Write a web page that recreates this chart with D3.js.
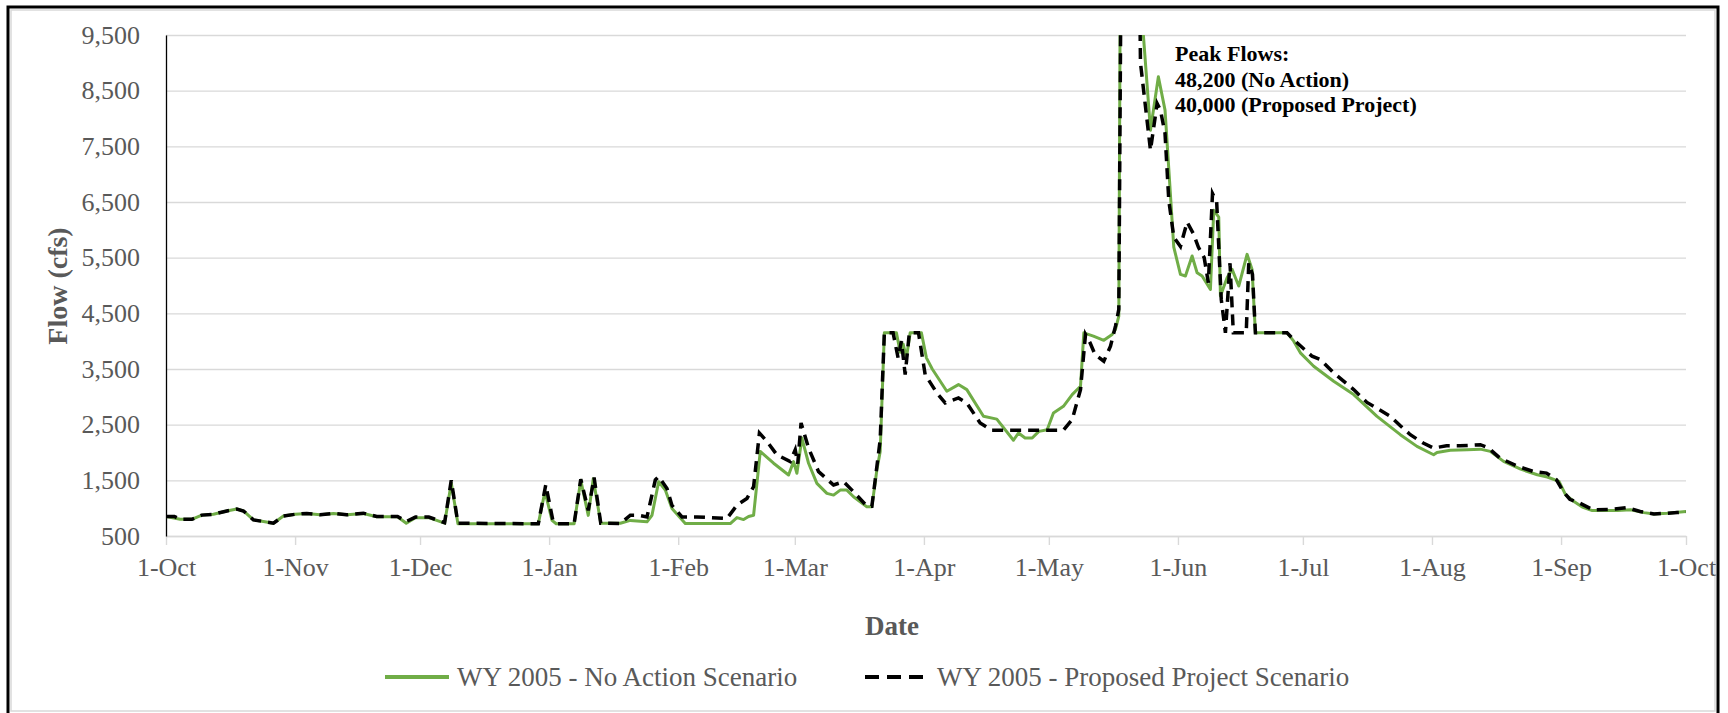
<!DOCTYPE html>
<html>
<head>
<meta charset="utf-8">
<script src="https://cdn.jsdelivr.net/npm/d3@7"></script>
<style>
  body { margin: 0; background: #fff; }
  svg { display: block; }
  text { font-family: "Liberation Serif", "Times New Roman", serif; }
</style>
</head>
<body>
<script>
// water year 2005, day 0 = 1-Oct-2004
const yTicks = [500, 1500, 2500, 3500, 4500, 5500, 6500, 7500, 8500, 9500];
const seriesNames = ["WY 2005 - No Action Scenario", "WY 2005 - Proposed Project Scenario"];
const peakNote = ["Peak Flows:", "48,200 (No Action)", "40,000 (Proposed Project)"];

// [day of water year, flow cfs]
const noAction = [
  [0, 850], [3.4, 800], [6.2, 800], [8.6, 875], [11.4, 890], [14.6, 950], [17, 985],
  [18.6, 950], [21, 790], [23.4, 760], [25.8, 730], [28.2, 860], [31, 890], [33.8, 905],
  [37, 880], [40.2, 905], [43.4, 880], [47.4, 905], [50.6, 845], [55.6, 845], [57.7, 730],
  [59.9, 830], [63.1, 830], [66.9, 730], [68.5, 1450], [70.1, 720], [89.4, 720], [91, 1300],
  [92.7, 780], [93.7, 720], [98, 720], [99.6, 1500], [101.4, 870], [102.6, 1530], [104.4, 730],
  [109.1, 730], [111.5, 780], [115.5, 755], [116.7, 873], [118.3, 1476], [119.9, 1325],
  [121.5, 994], [124.7, 723], [135.5, 723], [137.1, 831], [138.7, 795], [139.9, 850],
  [141.1, 873], [142.7, 2018], [145.9, 1807], [149.5, 1596], [150.7, 1837], [151.5, 1627],
  [152.7, 2259], [154.3, 1807], [156.3, 1446], [158.7, 1265], [160.3, 1235], [161.9, 1325],
  [163.5, 1325], [165.1, 1205], [168.3, 1024], [169.5, 1024], [170.7, 1687], [171.5, 2018],
  [172.5, 4150], [175.4, 4150], [176.3, 3800], [177, 3950], [177.8, 3700], [178.7, 4150],
  [181.4, 4150], [182.6, 3700], [184, 3500], [187.5, 3100], [190.3, 3220], [192.3, 3130],
  [196.3, 2650], [199.5, 2600], [203.5, 2220], [204.7, 2350], [206.3, 2260], [208, 2260],
  [209.6, 2380], [211.6, 2410], [213.1, 2710], [215.5, 2830], [217.6, 3040], [219.6, 3190],
  [220.4, 4150], [222.7, 4090], [225.2, 4015], [227.2, 4120], [228, 4210], [228.8, 4450],
  [230, 25000], [231, 40000], [232, 48200], [233, 30000], [234, 10200], [236.4, 7790],
  [238.3, 8750], [239.9, 8150], [242, 5690], [243.6, 5200], [244.8, 5170], [246.4, 5530],
  [247.6, 5230], [248.8, 5170], [250.8, 4930], [251.6, 6350], [252.8, 6230], [253.2, 4810],
  [254.8, 5140], [256, 5290], [257.6, 4990], [259.6, 5560], [260.8, 5290], [261.6, 4150],
  [269.2, 4150], [270.8, 4000], [272.4, 3790], [275.6, 3550], [280.4, 3280], [285.2, 3040],
  [290.8, 2650], [296.4, 2320], [300.4, 2110], [304.4, 1960], [305.2, 2000], [308.4, 2040],
  [312.4, 2050], [315.6, 2060], [318, 2020], [321.2, 1840], [325.3, 1700], [329.3, 1600],
  [331.7, 1560], [334.5, 1480], [336.1, 1240], [338.1, 1120], [340.1, 1020], [342.5, 957],
  [348.5, 957], [351.7, 970], [354.9, 920], [357.3, 897], [360.5, 910], [365, 940]
];

const proposed = [
  [0, 850], [2, 850], [3.4, 800], [6.2, 800], [8.6, 875], [11.4, 890], [14.6, 950], [17, 985],
  [18.6, 950], [21, 790], [23.4, 760], [25.8, 730], [28.2, 860], [31, 890], [33.8, 905],
  [37, 880], [40.2, 905], [43.4, 880], [47.4, 910], [50.6, 850], [55.6, 850], [57.7, 760],
  [59.9, 840], [63.1, 840], [66.9, 740], [68.5, 1500], [70.1, 730], [89.4, 720], [91.2, 1420],
  [92.9, 780], [94, 720], [98, 720], [99.6, 1520], [101.4, 960], [102.8, 1550], [104.4, 730],
  [109.1, 723], [111.5, 873], [113.5, 873], [115.5, 843], [117.5, 1506], [118.3, 1566],
  [120.3, 1355], [121.5, 1050], [123.9, 843], [127.5, 843], [134.7, 813], [137.1, 1054],
  [139.5, 1175], [141.1, 1386], [142.5, 2349], [144.3, 2199], [146.7, 1958], [149.9, 1837],
  [151.1, 2048], [151.7, 1800], [152.5, 2530], [154.3, 2078], [156.7, 1657], [160.3, 1416],
  [162.7, 1476], [165.1, 1295], [168.3, 1036], [169.5, 1036], [170.3, 1506], [171.5, 2229],
  [172.5, 4150], [174.6, 4150], [175.8, 3700], [176.6, 4000], [177.5, 3400], [178.5, 4150],
  [180.7, 4150], [182.3, 3400], [185.1, 3070], [187.1, 2890], [190.3, 2980], [192.3, 2890],
  [195.5, 2530], [198.3, 2400], [215.5, 2400], [217.6, 2590], [219.6, 3130], [220.8, 4120],
  [221.9, 3970], [223.1, 3760], [225.2, 3640], [226.8, 3910], [228, 4270], [228.8, 4570],
  [229.7, 15000], [231, 40000], [232, 30000], [233, 16000], [234, 9000], [236.4, 7430],
  [238, 8270], [238.8, 8150], [239.9, 7730], [240.8, 6530], [242, 5870], [243.6, 5700],
  [245.2, 6140], [246.7, 5930], [247.9, 5690], [249.3, 5500], [250.3, 5050], [251.3, 6650],
  [252.3, 6500], [253.4, 4750], [254.4, 4150], [255.5, 5400], [256.3, 4150], [259.4, 4150],
  [260, 5400], [260.9, 5200], [261.6, 4150], [269.2, 4150], [271.6, 3970], [275.2, 3730],
  [277.2, 3670], [280.4, 3430], [285.2, 3130], [288.4, 2900], [294, 2650], [296.4, 2480],
  [298.8, 2320], [301.9, 2170], [304.4, 2080], [307.5, 2120], [310.7, 2120], [315.6, 2140],
  [317.6, 2080], [320.3, 1900], [324.3, 1760], [328.3, 1660], [331.5, 1630], [333.9, 1510],
  [335.5, 1300], [337.1, 1160], [339.5, 1090], [342.7, 970], [347.5, 980], [350.8, 1010],
  [354, 940], [357.3, 897], [362.9, 920], [365, 930]
];

const width = 1728, height = 713;
const plotLeft = 166, plotRight = 1686, plotTop = 35, plotBottom = 536;
const serif = "'Liberation Serif', 'Times New Roman', serif";

const start = Date.UTC(2004, 9, 1);
const dayToDate = d => new Date(start + d * 864e5);

const x = d3.scaleUtc()
    .domain([new Date(start), new Date(Date.UTC(2005, 9, 1))])
    .range([plotLeft, plotRight]);

const y = d3.scaleLinear()
    .domain([500, 9500])
    .range([plotBottom, plotTop]);

const svg = d3.select("body").append("svg")
    .attr("width", width)
    .attr("height", height);

// chart frame
svg.append("rect")
    .attr("x", 8).attr("y", 7)
    .attr("width", 1710).attr("height", 708)
    .attr("fill", "none")
    .attr("stroke", "#000")
    .attr("stroke-width", 3);
svg.append("rect")
    .attr("x", 11).attr("y", 10)
    .attr("width", 1704).attr("height", 701)
    .attr("fill", "none")
    .attr("stroke", "#d9d9d9")
    .attr("stroke-width", 1.5);

// gridlines
svg.append("g")
    .attr("transform", `translate(${plotLeft},0)`)
    .call(d3.axisLeft(y).tickValues(yTicks).tickSize(-(plotRight - plotLeft)).tickFormat(""))
    .call(g => g.select(".domain").remove())
    .call(g => g.selectAll("line").attr("stroke", "#d9d9d9").attr("stroke-width", 1.4));

// x axis
const months = d3.utcMonth.range(new Date(start), new Date(Date.UTC(2005, 9, 2)));
svg.append("g")
    .attr("transform", `translate(0,${plotBottom})`)
    .call(d3.axisBottom(x).tickValues(months).tickFormat(d3.utcFormat("%-d-%b")).tickSize(9).tickSizeOuter(0).tickPadding(13))
    .call(g => g.select(".domain").attr("stroke", "#d9d9d9").attr("stroke-width", 1.4))
    .call(g => g.selectAll("line").attr("stroke", "#d9d9d9").attr("stroke-width", 1.4))
    .call(g => g.selectAll("text")
        .attr("fill", "#595959")
        .style("font-size", "26px")
        .style("font-family", serif));

// y axis
svg.append("g")
    .attr("transform", `translate(${plotLeft},0)`)
    .call(d3.axisLeft(y).tickValues(yTicks).tickFormat(d3.format(",")).tickSize(0).tickPadding(26))
    .call(g => g.select(".domain").attr("stroke", "#000").attr("stroke-width", 1.3))
    .call(g => g.selectAll("text")
        .attr("fill", "#595959")
        .style("font-size", "26px")
        .style("font-family", serif));

// axis titles
svg.append("text")
    .attr("x", 892).attr("y", 635)
    .attr("text-anchor", "middle")
    .attr("fill", "#595959")
    .attr("font-weight", "bold")
    .attr("font-size", 27)
    .text("Date");

svg.append("text")
    .attr("transform", "translate(67,286) rotate(-90)")
    .attr("text-anchor", "middle")
    .attr("fill", "#595959")
    .attr("font-weight", "bold")
    .attr("font-size", 28)
    .text("Flow (cfs)");

// lines
svg.append("clipPath").attr("id", "plot")
  .append("rect")
    .attr("x", plotLeft).attr("y", plotTop)
    .attr("width", plotRight - plotLeft).attr("height", plotBottom - plotTop);

const line = d3.line()
    .x(d => x(dayToDate(d[0])))
    .y(d => y(d[1]));

svg.append("path")
    .datum(noAction)
    .attr("clip-path", "url(#plot)")
    .attr("fill", "none")
    .attr("stroke", "#70ad47")
    .attr("stroke-width", 3)
    .attr("stroke-linejoin", "round")
    .attr("d", line);

svg.append("path")
    .datum(proposed)
    .attr("clip-path", "url(#plot)")
    .attr("fill", "none")
    .attr("stroke", "#000")
    .attr("stroke-width", 3.5)
    .attr("stroke-dasharray", "11,7")
    .attr("d", line);

// annotation
svg.append("text")
    .attr("x", 1175)
    .attr("font-weight", "bold")
    .attr("font-size", 22)
    .attr("fill", "#000")
    .selectAll("tspan")
    .data(peakNote)
    .join("tspan")
    .attr("x", 1175)
    .attr("y", (d, i) => 61 + i * 25.5)
    .text(d => d);

// legend
const legend = svg.append("g");
const items = [
  { name: seriesNames[0], x: 385, stroke: "#70ad47", dash: null, w: 4 },
  { name: seriesNames[1], x: 865, stroke: "#000", dash: "14,8", w: 4 }
];
items.forEach(it => {
  legend.append("line")
      .attr("x1", it.x).attr("x2", it.x + 64)
      .attr("y1", 677).attr("y2", 677)
      .attr("stroke", it.stroke)
      .attr("stroke-width", it.w)
      .attr("stroke-dasharray", it.dash);
  legend.append("text")
      .attr("x", it.x + 72).attr("y", 686)
      .attr("fill", "#595959")
      .attr("font-size", 27)
      .text(it.name);
});
</script>
</body>
</html>
